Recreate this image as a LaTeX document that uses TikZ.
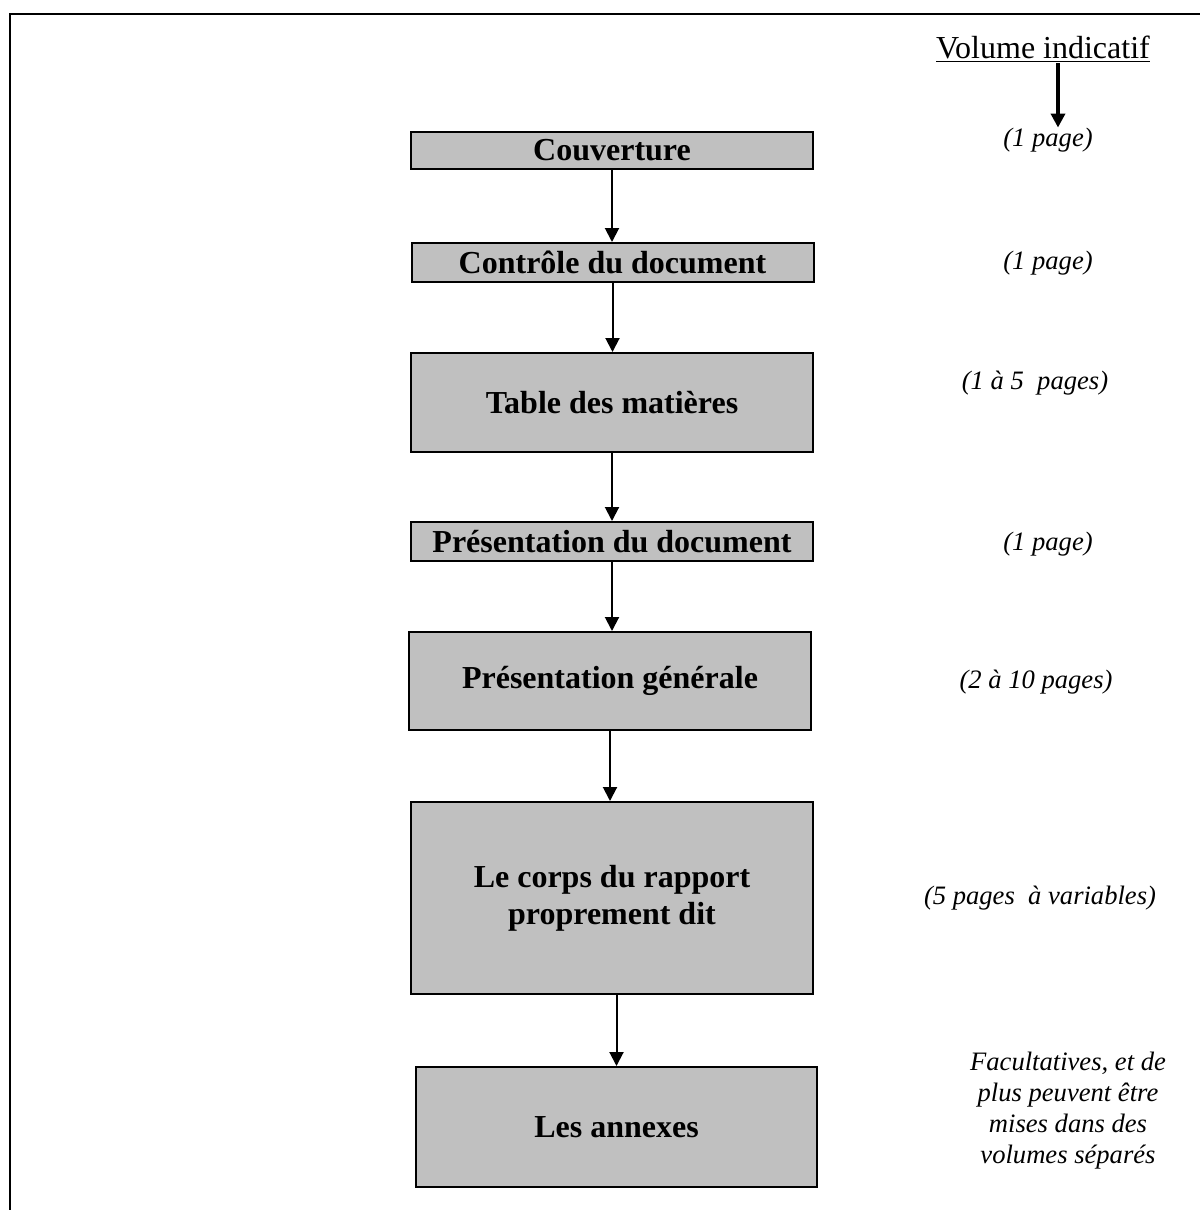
\documentclass[tikz,border=0pt]{standalone}
\usepackage{fontspec}
\setmainfont{Liberation Serif}
\usetikzlibrary{arrows.meta}
\definecolor{boxgray}{RGB}{192,192,192}

\begin{document}
\begin{tikzpicture}[x=0.5pt,y=-0.5pt,
    box/.style={draw,line width=1pt,fill=boxgray,minimum width=201pt,inner sep=0pt,
        align=center,font=\fontsize{16}{18.5}\selectfont\bfseries},
    volume/.style={inner sep=0pt,align=center,font=\fontsize{13.3}{15.5}\selectfont\itshape},
    >={Triangle[length=7pt,width=7pt]}]
    \useasboundingbox (0,0) rectangle (1200,1210);
    \draw[line width=1.2pt] (10,1210) -- (10,14) -- (1200,14);
    % boxes
    \node[box,minimum height=18.5pt] (couv) at (612,150.5) {Couverture};
    \node[box,minimum height=19.5pt] (ctrl) at (612.5,262.5) {Contrôle du document};
    \node[box,minimum height=49.5pt] (table) at (612,402.5) {Table des matières};
    \node[box,minimum height=19.5pt] (presdoc) at (612,541.5) {Présentation du document};
    \node[box,minimum height=49pt] (presgen) at (610,681) {Présentation générale};
    \node[box,minimum height=96pt] (corps) at (612,898) {Le corps du rapport\\proprement dit};
    \node[box,minimum height=60pt,minimum width=200.5pt] (annexes) at (616.5,1127) {Les annexes};
    % volumes
    \node[anchor=base,inner sep=0pt,font=\fontsize{16}{18}\selectfont] (vol) at (1043,58) {\underline{Volume indicatif}};
    \node[volume] (p1) at (1048,140) {(1 page)};
    \node[volume] (p2) at (1048,263) {(1 page)};
    \node[volume] (p3) at (1035,383) {(1 à 5\ \ pages)};
    \node[volume] (p4) at (1048,544) {(1 page)};
    \node[volume] (p5) at (1036,682) {(2 à 10 pages)};
    \node[volume] (p6) at (1040,898) {(5 pages\ \ à variables)};
    \node[volume] (fac) at (1068,1111) {Facultatives, et de\\plus peuvent être\\mises dans des\\volumes séparés};
    % arrows
    \foreach \a/\b in {couv/ctrl,ctrl/table,table/presdoc,presdoc/presgen,presgen/corps}
        \draw[->,line width=1pt] (\a.south) -- (\a.south |- \b.north);
    \draw[->,line width=1pt] (annexes.north |- corps.south) -- (annexes.north);
    \coordinate (volarr) at (1058,63);
    \draw[->,line width=2pt] (volarr) -- (volarr |- p1.north);
\end{tikzpicture}
\end{document}
